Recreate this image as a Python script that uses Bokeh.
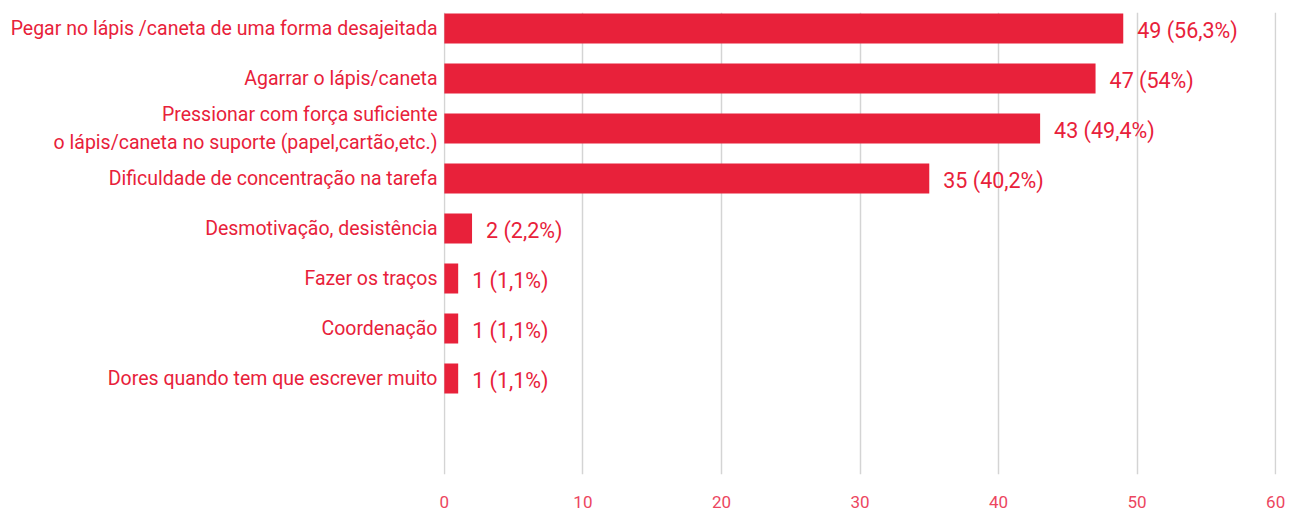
from bokeh.plotting import figure
from bokeh.models import Range1d, FixedTicker, ColumnDataSource
from bokeh.core.properties import value
from bokeh.embed import file_html
from bokeh.resources import INLINE

categories = [
    "Pegar no lápis /caneta de uma forma desajeitada",
    "Agarrar o lápis/caneta",
    "Pressionar com força suficiente\no lápis/caneta no suporte (papel,cartão,etc.)",
    "Dificuldade de concentração na tarefa",
    "Desmotivação, desistência",
    "Fazer os traços",
    "Coordenação",
    "Dores quando tem que escrever muito",
]
counts = [49, 47, 43, 35, 2, 1, 1, 1]
labels = ["49 (56,3%)", "47 (54%)", "43 (49,4%)", "35 (40,2%)", "2 (2,2%)", "1 (1,1%)", "1 (1,1%)", "1 (1,1%)"]
x_ticks = [0, 10, 20, 30, 40, 50, 60]

RED = "#E8213A"
pos = list(range(len(categories)))

src = ColumnDataSource(dict(y=pos, v=counts, lab=labels))

p = figure(width=1285, height=513, output_backend="svg", toolbar_location=None,
           x_range=Range1d(-0.06, 60.06), y_range=Range1d(8.92, -0.32),
           min_border_left=443, min_border_right=9, min_border_top=12, min_border_bottom=39)
p.outline_line_color = None
p.background_fill_color = "white"

p.hbar(y="y", right="v", left=0, height=0.6, source=src, color=RED, line_color=None)
p.text(x="v", y="y", text="lab", source=src, x_offset=14, y_offset=2,
       text_align="left", text_baseline="middle", text_color=RED,
       text_font=value("Roboto"), text_font_size="21.5px", text_font_style="normal")

p.xaxis.ticker = FixedTicker(ticks=x_ticks)
p.xaxis.axis_line_color = None
p.xaxis.major_tick_line_color = None
p.xaxis.minor_tick_line_color = None
p.xaxis.major_tick_out = 0
p.xaxis.major_tick_in = 0
p.xaxis.major_label_standoff = 21
p.xaxis.major_label_text_color = "#EC4660"
p.xaxis.major_label_text_font = "Roboto"
p.xaxis.major_label_text_font_size = "17px"

p.yaxis.ticker = FixedTicker(ticks=pos)
p.yaxis.major_label_overrides = {i: c for i, c in enumerate(categories)}
p.yaxis.axis_line_color = None
p.yaxis.major_tick_line_color = None
p.yaxis.minor_tick_line_color = None
p.yaxis.major_tick_out = 0
p.yaxis.major_tick_in = 0
p.yaxis.major_label_standoff = 6
p.yaxis.major_label_text_color = RED
p.yaxis.major_label_text_font = "Roboto"
p.yaxis.major_label_text_font_size = "19.5px"

p.xgrid.ticker = FixedTicker(ticks=x_ticks)
p.xgrid.grid_line_color = "#d4d4d4"
p.xgrid.grid_line_width = 1.5
p.ygrid.grid_line_color = None

open("out.html", "w").write(file_html(p, INLINE))
